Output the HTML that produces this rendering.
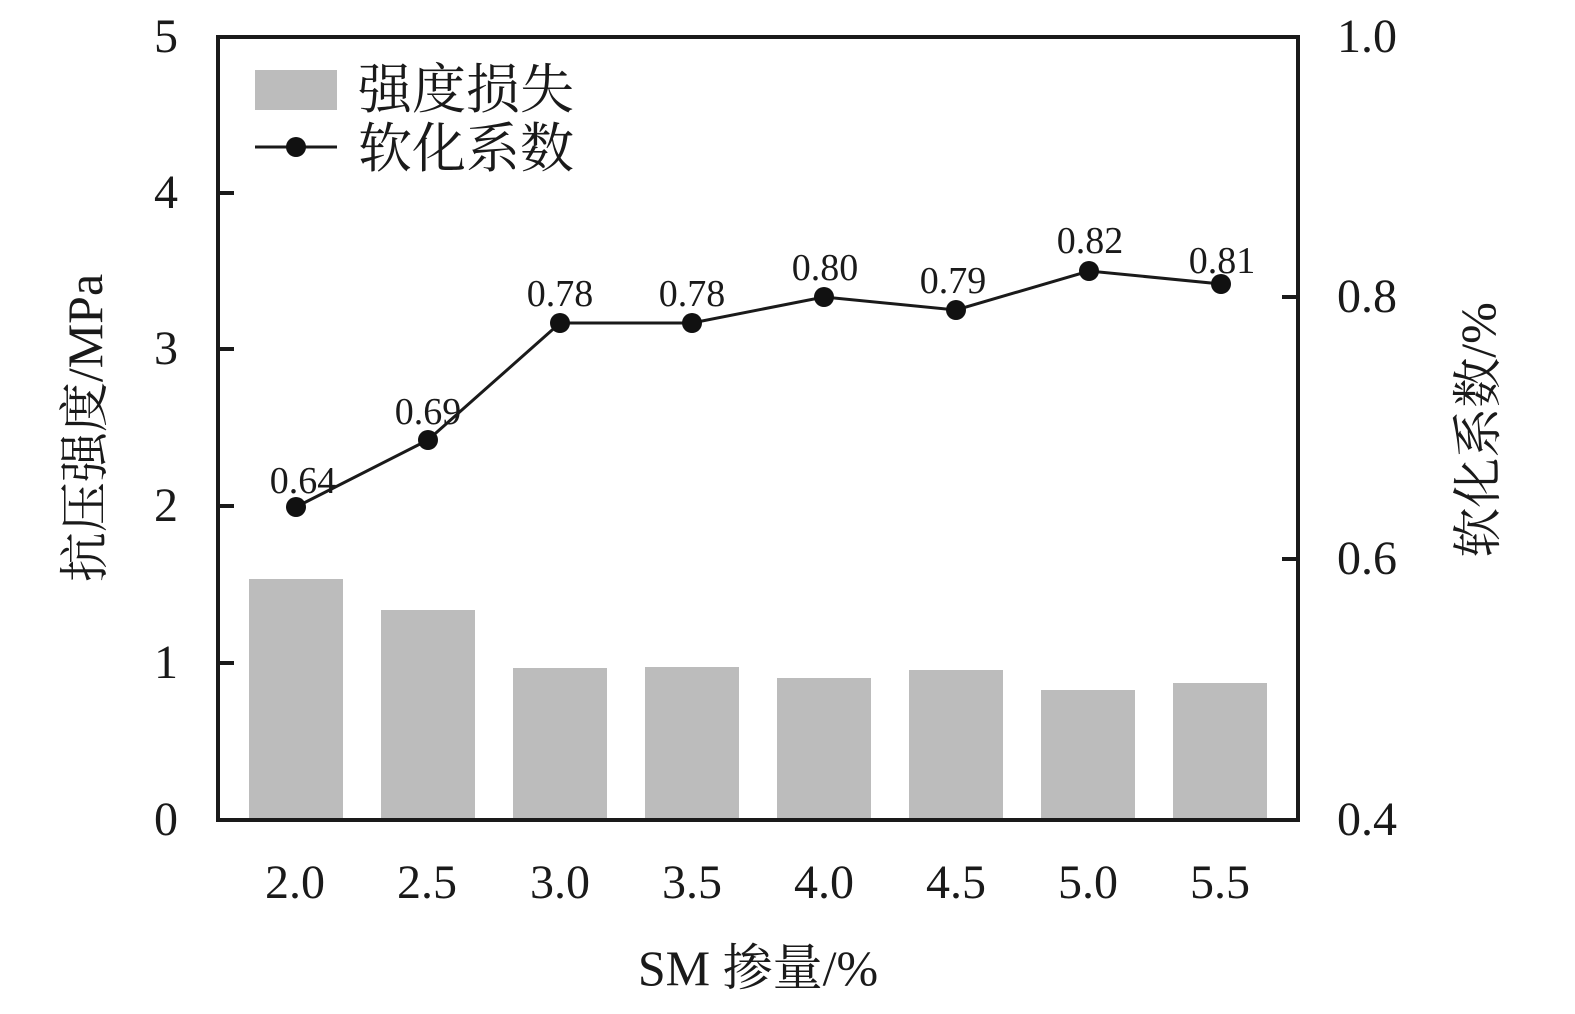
<!DOCTYPE html>
<html><head><meta charset="utf-8"><style>
html,body{margin:0;padding:0;background:#fff;}
svg{display:block;}
text{font-family:"Liberation Serif","Noto Serif CJK SC",serif;fill:#1a1a1a;}
</style></head><body>
<svg width="1575" height="1014" viewBox="0 0 1575 1014">
<g fill="#bcbcbc">
<rect x="249" y="579" width="94" height="241"/>
<rect x="381" y="610" width="94" height="210"/>
<rect x="513" y="668" width="94" height="152"/>
<rect x="645" y="667" width="94" height="153"/>
<rect x="777" y="678" width="94" height="142"/>
<rect x="909" y="670" width="94" height="150"/>
<rect x="1041" y="690" width="94" height="130"/>
<rect x="1173" y="683" width="94" height="137"/>
</g>
<rect x="218" y="37" width="1080" height="783" fill="none" stroke="#1a1a1a" stroke-width="4"/>
<g stroke="#1a1a1a" stroke-width="4">
<line x1="218" y1="193" x2="234" y2="193"/><line x1="218" y1="349" x2="234" y2="349"/>
<line x1="218" y1="506" x2="234" y2="506"/><line x1="218" y1="663" x2="234" y2="663"/>
<line x1="1282" y1="297" x2="1298" y2="297"/>
<line x1="1282" y1="559" x2="1298" y2="559"/>
</g>
<g font-size="48" text-anchor="end">
<text x="178" y="52">5</text><text x="178" y="208">4</text><text x="178" y="364">3</text>
<text x="178" y="521">2</text><text x="178" y="678">1</text><text x="178" y="835">0</text>
</g>
<g font-size="48" text-anchor="start">
<text x="1337" y="52">1.0</text><text x="1337" y="312">0.8</text>
<text x="1337" y="574">0.6</text><text x="1337" y="835">0.4</text>
</g>
<g font-size="48" text-anchor="middle">
<text x="295" y="898">2.0</text><text x="427" y="898">2.5</text><text x="560" y="898">3.0</text>
<text x="692" y="898">3.5</text><text x="824" y="898">4.0</text><text x="956" y="898">4.5</text>
<text x="1088" y="898">5.0</text><text x="1220" y="898">5.5</text>
<text x="758" y="985" font-size="50">SM 掺量/%</text>
</g>
<text font-size="50" text-anchor="middle" transform="translate(102,428) rotate(-90)">抗压强度/MPa</text>
<text font-size="50" text-anchor="middle" transform="translate(1495,430) rotate(-90)">软化系数/%</text>
<polyline fill="none" stroke="#1a1a1a" stroke-width="3" points="296,507 428,440 560,323 692,323 824,297 956,310 1089,271 1221,284"/>
<g fill="#111">
<circle cx="296" cy="507" r="10"/><circle cx="428" cy="440" r="10"/><circle cx="560" cy="323" r="10"/>
<circle cx="692" cy="323" r="10"/><circle cx="824" cy="297" r="10"/><circle cx="956" cy="310" r="10"/>
<circle cx="1089" cy="271" r="10"/><circle cx="1221" cy="284" r="10"/>
</g>
<g font-size="38" text-anchor="middle">
<text x="303" y="493">0.64</text><text x="428" y="424">0.69</text><text x="560" y="306">0.78</text>
<text x="692" y="306">0.78</text><text x="825" y="280">0.80</text><text x="953" y="293">0.79</text>
<text x="1090" y="253">0.82</text><text x="1222" y="273">0.81</text>
</g>
<rect x="255" y="70" width="82" height="40" fill="#bcbcbc"/>
<line x1="255" y1="147" x2="337" y2="147" stroke="#1a1a1a" stroke-width="3"/>
<circle cx="296" cy="147" r="10" fill="#111"/>
<text x="358" y="108" font-size="54">强度损失</text>
<text x="358" y="167" font-size="54">软化系数</text>
</svg>
</body></html>
